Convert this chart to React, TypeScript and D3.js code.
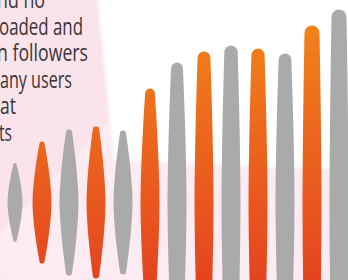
import React, { useEffect, useRef } from 'react';
import * as d3 from 'd3';

// spindles, left to right (g = grey, o = orange)
const kinds = ['g', 'o', 'g', 'o', 'g', 'o', 'g', 'o', 'g', 'o', 'g', 'o', 'g'];
// half length of each spindle (arbitrary units)
const levels = [19.75, 30.5, 36.5, 38, 36, 57, 70, 75.5, 78.5, 77, 74.5, 88.5, 96.5];

const textLines = ['nd no', 'oaded and', 'n followers', 'any users', 'at', 'ts'];
const textStart = [-3, -1, -3, 0, 0, -1];
const textEnd = [45, 83, 88, 72, 16, 12];

function App() {
  const svgRef = useRef<SVGSVGElement>(null);

  useEffect(() => {
    const svg = d3.select(svgRef.current);
    svg.selectAll('*').remove();

    const width = 348;
    const height = 280;
    const midY = 202.5;

    const defs = svg.append('defs');
    const grad = defs.append('linearGradient')
      .attr('id', 'orangeGrad')
      .attr('gradientUnits', 'userSpaceOnUse')
      .attr('x1', 0).attr('y1', 20)
      .attr('x2', 0).attr('y2', 285);
    grad.append('stop').attr('offset', '0%').attr('stop-color', '#f2831b');
    grad.append('stop').attr('offset', '100%').attr('stop-color', '#e4431f');

    defs.append('filter').attr('id', 'soft')
      .append('feGaussianBlur').attr('stdDeviation', 1.5);

    // background
    svg.append('rect').attr('width', width).attr('height', height).attr('fill', '#fae3eb');
    svg.append('polygon')
      .attr('points', '0,232 112,118 114,161 348,171 348,280 0,280')
      .attr('fill', '#fcecf2')
      .attr('filter', 'url(#soft)');
    svg.append('polygon')
      .attr('points', '97,-5 360,-5 360,171 114,161')
      .attr('fill', '#ffffff')
      .attr('filter', 'url(#soft)');

    // text
    svg.append('g')
      .selectAll('text')
      .data(textLines)
      .join('text')
      .attr('x', (d, i) => textStart[i])
      .attr('y', (d, i) => 8 + i * 26.6)
      .attr('textLength', (d, i) => textEnd[i] - textStart[i])
      .attr('lengthAdjust', 'spacingAndGlyphs')
      .attr('font-family', '"Open Sans", sans-serif')
      .attr('font-size', 23)
      .attr('fill', '#3b3536')
      .text(d => d);

    const x = d3.scalePoint<number>()
      .domain(d3.range(kinds.length))
      .range([15, 339]);
    const y = d3.scaleLinear().domain([0, 100]).range([0, 200]);

    const spindle = (cx: number, h: number) => {
      const w0 = Math.max(15, Math.min(19, 15 + (h - 40) * 0.2));
      const wt = Math.max(3, Math.min(15, h * 0.085));
      const r = wt / 2;
      const top = midY - h + r;
      const bot = midY + h - r;
      const wAt = (t: number) => wt + (w0 - wt) * (1 - Math.pow(t, 1.6));
      const n = 12;
      const p = d3.path();
      p.moveTo(cx - r, top);
      for (let i = 1; i <= n; i++) {
        const t = 1 - i / n;
        p.lineTo(cx - wAt(t) / 2, midY - t * (h - r));
      }
      for (let i = 1; i <= n; i++) {
        const t = i / n;
        p.lineTo(cx - wAt(t) / 2, midY + t * (h - r));
      }
      p.arc(cx, bot, r, Math.PI, 0, true);
      for (let i = 1; i <= n; i++) {
        const t = 1 - i / n;
        p.lineTo(cx + wAt(t) / 2, midY + t * (h - r));
      }
      for (let i = 1; i <= n; i++) {
        const t = i / n;
        p.lineTo(cx + wAt(t) / 2, midY - t * (h - r));
      }
      p.arc(cx, top, r, 0, Math.PI, true);
      p.closePath();
      return p.toString();
    };

    svg.append('g')
      .selectAll('path')
      .data(levels)
      .join('path')
      .attr('d', (d, i) => spindle(x(i) as number, y(d)))
      .attr('fill', (d, i) => kinds[i] === 'o' ? 'url(#orangeGrad)' : '#aaaaaa');
  }, []);

  return (
    <svg ref={svgRef} width={348} height={280}
      style={{ position: 'fixed', left: 0, top: 0, display: 'block' }} />
  );
}

export default App;
